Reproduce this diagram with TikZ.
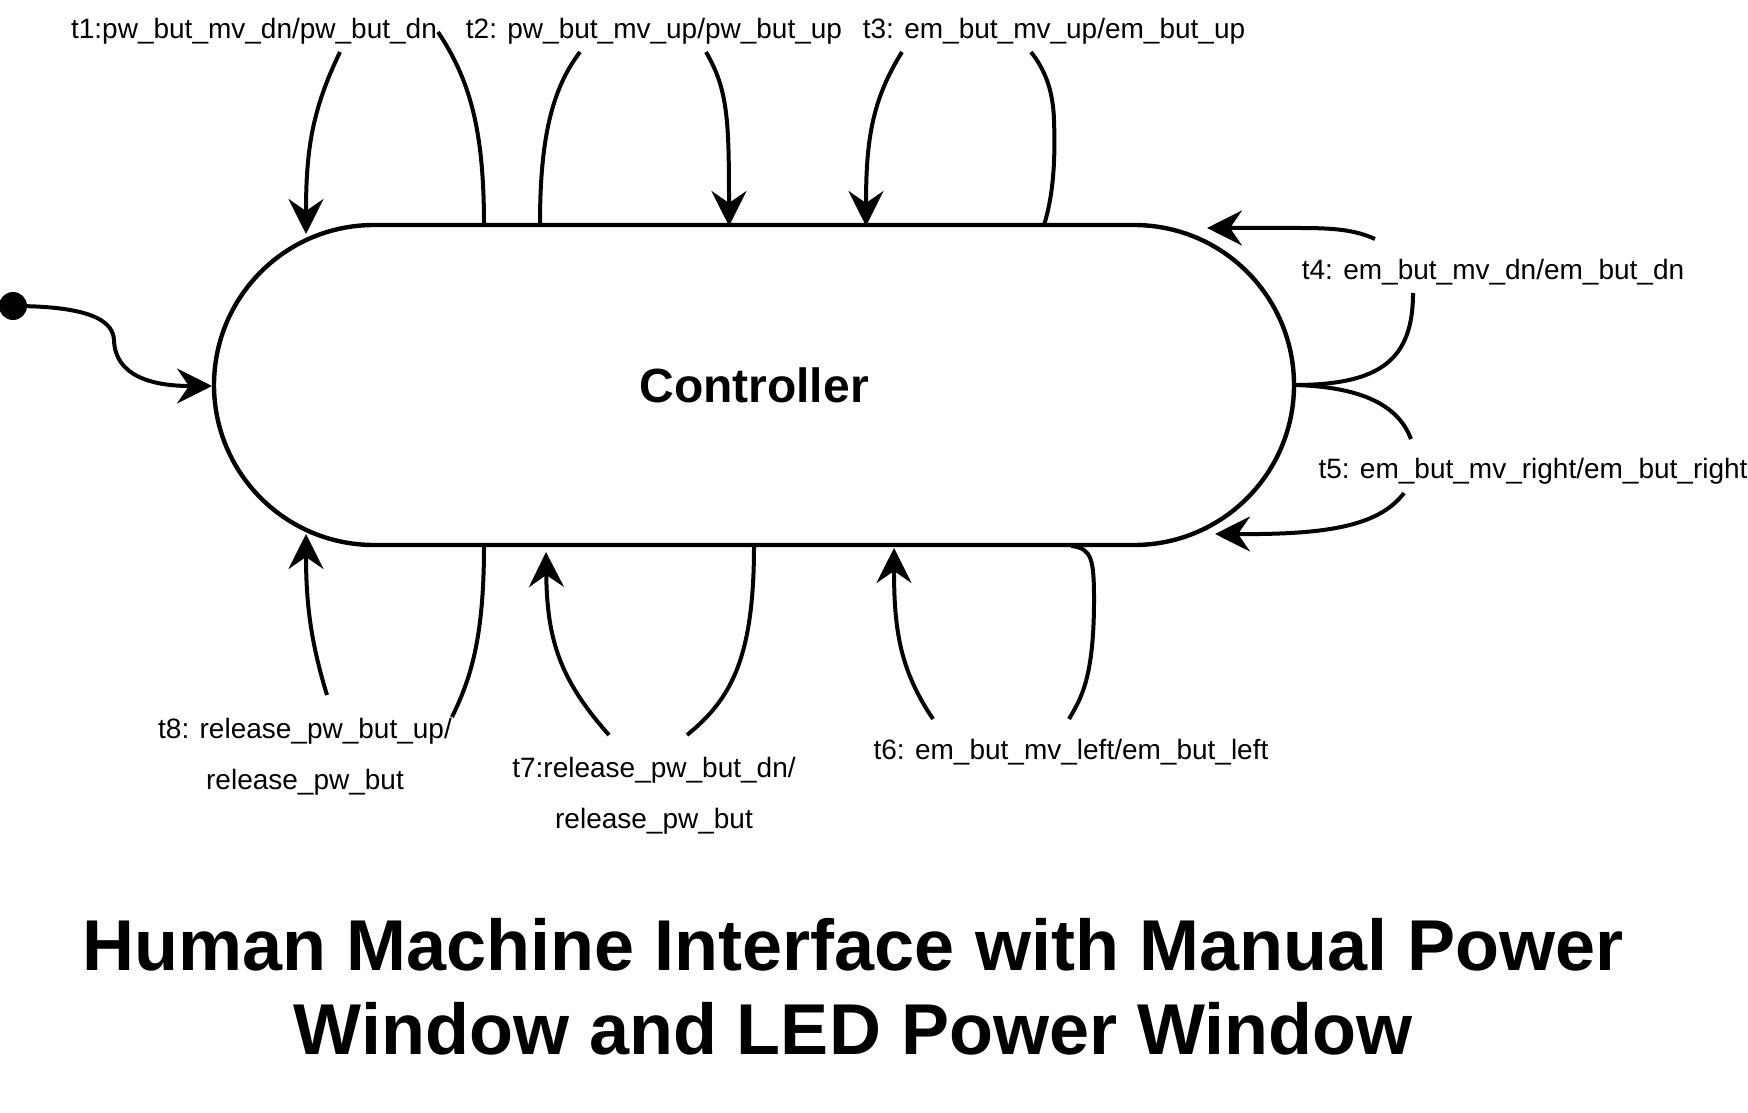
\documentclass[tikz,border=0pt]{standalone}
\usepackage{fontspec}
\setmainfont{Liberation Sans}
\usetikzlibrary{arrows.meta,shapes.misc}
\begin{document}
\begin{tikzpicture}[x=0.5pt,y=-0.5pt,
  line width=2pt,
  arr/.style={-{Stealth[length=17.5pt,width=17.5pt,inset=6pt]}},
  lbl/.style={font=\fontsize{14}{25.5}\selectfont, inner sep=0pt, align=center, anchor=base},
  state/.style={rounded rectangle, draw, line width=2.2pt, minimum width=540pt, minimum height=160pt, inner sep=0pt, font=\fontsize{24}{28}\selectfont\bfseries},
  ttl/.style={font=\fontsize{36}{42}\selectfont\bfseries, align=center, anchor=base, inner sep=0pt}
  ]
\useasboundingbox (0,0) rectangle (1748,1112);
\node[state] (ctrl) at (754,385) {Controller};

% labels (base anchor = baseline of the last line)
\node[lbl] (t1) at (254,39) {t1:pw\_but\_mv\_dn/pw\_but\_dn};
\node[lbl] (t2) at (654,39) {t2: pw\_but\_mv\_up/pw\_but\_up};
\node[lbl] (t3) at (1054,39) {t3: em\_but\_mv\_up/em\_but\_up};
\node[lbl] (t4) at (1493,280) {t4: em\_but\_mv\_dn/em\_but\_dn};
\node[lbl] (t5) at (1533,478) {t5: em\_but\_mv\_right/em\_but\_right};
\node[lbl] (t6) at (1071,759) {t6: em\_but\_mv\_left/em\_but\_left};
\node[lbl] (t7) at (654,828) {t7:release\_pw\_but\_dn/\\release\_pw\_but};
\node[lbl] (t8) at (305,789) {t8: release\_pw\_but\_up/\\release\_pw\_but};

\node[ttl] (title) at (853,1054) {Human Machine Interface with Manual Power\\Window and LED Power Window};

% initial state
\node[circle, fill, inner sep=0pt, minimum size=14pt] (init) at (13,306) {};
\coordinate (c0) at (212,386);
\draw[arr] (init.center) .. controls (100,306) and (113,325) .. (114,340)
  .. controls (115,375) and (150,386) .. (c0);

% t1
\coordinate (t1o) at (484,225); \coordinate (t1a) at (438,32);
\coordinate (t1b) at (340,52);  \coordinate (t1i) at (306,234);
\draw (t1o) .. controls (484,130) and (470,80) .. (t1a);
\draw[arr] (t1b) .. controls (312,110) and (306,150) .. (t1i);

% t2
\coordinate (t2o) at (540,223); \coordinate (t2a) at (580,52);
\coordinate (t2b) at (706,52);  \coordinate (t2i) at (729,226);
\draw (t2o) .. controls (540,130) and (555,85) .. (t2a);
\draw[arr] (t2b) .. controls (728,90) and (729,120) .. (t2i);

% t3
\coordinate (t3b) at (902,52);  \coordinate (t3i) at (866,226);
\coordinate (t3o) at (1044,225); \coordinate (t3a) at (1031,52);
\draw[arr] (t3b) .. controls (872,100) and (866,140) .. (t3i);
\draw (t3o) .. controls (1055,190) and (1055,150) .. (1054,120)
  .. controls (1053,90) and (1045,70) .. (t3a);

% t4
\coordinate (t4o) at (1294,385); \coordinate (t4a) at (1413,293);
\coordinate (t4b) at (1375,239); \coordinate (t4i) at (1207,228);
\draw (t4o) .. controls (1380,385) and (1413,360) .. (t4a);
\draw[arr] (t4b) .. controls (1355,230) and (1335,228) .. (1300,228) -- (t4i);

% t5
\coordinate (t5a) at (1411,439);
\coordinate (t5b) at (1404,493); \coordinate (t5i) at (1215,534);
\draw (t4o) .. controls (1370,387) and (1400,410) .. (t5a);
\draw[arr] (t5b) .. controls (1380,525) and (1330,533) .. (1260,534) -- (t5i);

% t6
\coordinate (t6o) at (1071,546); \coordinate (t6a) at (1069,719);
\coordinate (t6b) at (933,719);  \coordinate (t6i) at (894,548);
\draw (t6o) .. controls (1092,548) and (1094,560) .. (1094,600)
  .. controls (1094,680) and (1080,700) .. (t6a);
\draw[arr] (t6b) .. controls (900,670) and (894,630) .. (t6i);

% t7
\coordinate (t7o) at (754,546); \coordinate (t7a) at (687,735);
\coordinate (t7b) at (609,735); \coordinate (t7i) at (546,552);
\draw (t7o) .. controls (754,660) and (730,700) .. (t7a);
\draw[arr] (t7b) .. controls (560,680) and (547,640) .. (t7i);

% t8
\coordinate (t8o) at (484,546); \coordinate (t8a) at (452,717);
\coordinate (t8b) at (327,695); \coordinate (t8i) at (306,534);
\draw (t8o) .. controls (484,640) and (470,680) .. (t8a);
\draw[arr] (t8b) .. controls (310,640) and (306,600) .. (t8i);
\end{tikzpicture}
\end{document}
